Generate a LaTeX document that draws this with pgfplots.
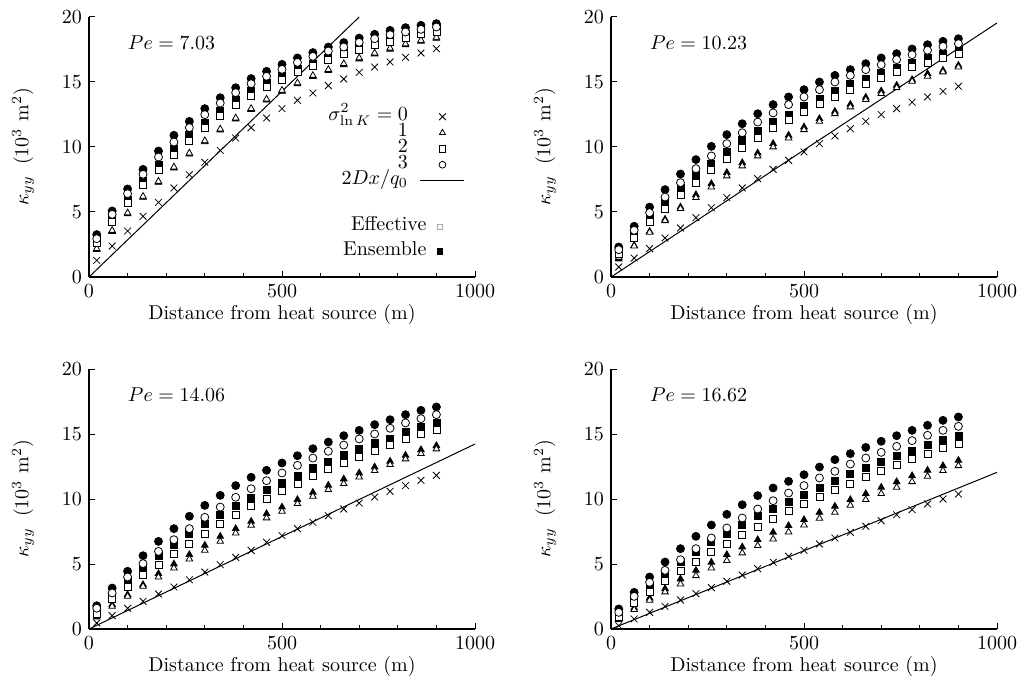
\documentclass[border=0pt]{standalone}
\usepackage{pgfplots}
\pgfplotsset{compat=1.18}
\usepackage{pgfplotstable}

\pgfplotstableread{
x   X     TF    TO    SF    SO    CF    CO
20  1.28  2.10  2.18  2.82  2.60  3.26  2.95
60  2.38  3.50  3.58  4.49  4.23  5.08  4.82
100 3.54  4.85  4.93  5.95  5.72  6.77  6.41
140 4.67  6.12  6.20  7.36  7.05  8.28  7.90
180 5.74  7.28  7.36  8.64  8.26  9.69  9.23
220 6.85  8.38  8.46  9.82  9.41  10.90 10.38
260 7.87  9.45  9.53  10.90 10.46 11.97 11.49
300 8.82  10.40 10.48 11.87 11.46 12.95 12.49
340 9.74  11.30 11.38 12.74 12.36 13.79 13.38
380 10.69 12.15 12.23 13.59 13.20 14.56 14.18
420 11.49 12.88 12.96 14.28 13.92 15.26 14.87
460 12.23 13.60 13.68 14.92 14.62 15.82 15.44
500 12.95 14.28 14.36 15.44 15.13 16.36 15.97
540 13.59 14.85 14.93 16.00 15.77 16.85 16.51
580 14.15 15.42 15.50 16.41 16.23 17.26 16.97
620 14.72 15.88 15.96 16.87 16.67 17.69 17.38
660 15.23 16.33 16.41 17.31 17.13 18.03 17.69
700 15.74 16.77 16.85 17.69 17.44 18.38 18.05
740 16.15 17.15 17.23 18.03 17.82 18.67 18.33
780 16.54 17.52 17.60 18.33 18.10 18.97 18.64
820 16.90 17.85 17.93 18.72 18.41 19.18 18.85
860 17.23 18.13 18.21 18.97 18.72 19.36 19.05
900 17.56 18.35 18.43 19.15 18.85 19.49 19.23
}\PA

\pgfplotstableread{
x   X     TF    TO    SF    SO    CF    CO
20  0.77  1.38  1.50  1.92  1.80  2.31  2.10
60  1.46  2.42  2.38  3.20  3.00  3.90  3.59
100 2.18  3.50  3.44  4.56  4.23  5.38  4.95
140 3.00  4.44  4.33  5.69  5.26  6.72  6.15
180 3.77  5.38  5.26  6.85  6.33  7.92  7.26
220 4.56  6.33  6.10  7.82  7.26  9.03  8.33
260 5.33  7.18  6.92  8.72  8.21  10.05 9.31
300 6.10  8.03  7.77  9.62  9.05  10.95 10.26
340 6.85  8.79  8.54  10.51 9.92  11.79 11.10
380 7.56  9.54  9.31  11.23 10.69 12.56 11.92
420 8.28  10.26 10.00 11.90 11.46 13.26 12.62
460 8.97  10.90 10.69 12.49 12.10 13.85 13.26
500 9.62  11.54 11.33 13.13 12.69 14.41 13.85
540 10.26 12.18 11.97 13.72 13.28 15.00 14.41
580 10.85 12.74 12.56 14.28 13.85 15.51 15.00
620 11.41 13.28 13.08 14.82 14.36 15.95 15.51
660 11.97 13.82 13.64 15.26 14.87 16.41 15.95
700 12.49 14.31 14.10 15.72 15.33 16.85 16.33
740 12.95 14.74 14.56 16.08 15.77 17.18 16.72
780 13.44 15.18 15.05 16.46 16.15 17.54 17.10
820 13.85 15.64 15.44 16.85 16.49 17.87 17.44
860 14.28 15.90 15.77 17.18 16.87 18.13 17.74
900 14.67 16.28 16.15 17.49 17.13 18.33 17.95
}\PB

\pgfplotstableread{
x   X     TF    TO    SF    SO    CF    CO
20  0.46  0.92  1.05  1.30  1.20  1.79  1.60
60  1.03  1.87  1.74  2.56  2.31  3.15  2.77
100 1.59  2.64  2.51  3.67  3.23  4.44  4.00
140 2.13  3.41  3.28  4.69  4.18  5.64  5.03
180 2.69  4.26  4.00  5.59  4.95  6.74  5.97
220 3.23  5.00  4.69  6.49  5.79  7.72  6.87
260 3.79  5.72  5.38  7.33  6.56  8.67  7.72
300 4.38  6.44  6.05  8.10  7.33  9.51  8.59
340 4.95  7.13  6.74  8.79  8.10  10.28 9.38
380 5.51  7.72  7.38  9.44  8.79  11.03 10.13
420 6.05  8.28  7.97  10.08 9.44  11.67 10.79
460 6.67  8.87  8.54  10.67 10.00 12.21 11.41
500 7.18  9.38  9.05  11.23 10.64 12.77 12.00
540 7.72  9.95  9.64  11.74 11.18 13.33 12.59
580 8.21  10.51 10.21 12.38 11.74 13.87 13.15
620 8.72  11.05 10.72 12.85 12.31 14.38 13.67
660 9.23  11.54 11.18 13.36 12.77 14.87 14.15
700 9.69  12.00 11.69 13.85 13.23 15.28 14.62
740 10.15 12.46 12.18 14.31 13.72 15.72 15.00
780 10.59 12.90 12.64 14.64 14.13 16.10 15.44
820 11.03 13.36 13.08 15.13 14.62 16.49 15.85
860 11.44 13.79 13.49 15.54 15.00 16.82 16.18
900 11.82 14.10 13.85 15.85 15.28 17.08 16.49
}\PC

\pgfplotstableread{
x   X     TF    TO    SF    SO    CF    CO
20  0.26  0.72  0.85  1.03  0.90  1.54  1.28
60  0.77  1.62  1.49  2.31  2.00  2.82  2.51
100 1.28  2.38  2.21  3.28  2.85  4.00  3.59
140 1.74  3.10  2.85  4.18  3.67  5.15  4.51
180 2.23  3.85  3.46  5.13  4.49  6.18  5.33
220 2.72  4.51  4.10  5.90  5.15  7.13  6.18
260 3.18  5.13  4.69  6.67  5.90  8.00  7.00
300 3.67  5.72  5.26  7.33  6.56  8.82  7.77
340 4.15  6.31  5.85  8.03  7.26  9.56  8.54
380 4.64  6.87  6.41  8.67  7.85  10.26 9.23
420 5.13  7.44  6.92  9.23  8.46  10.85 9.87
460 5.59  7.95  7.46  9.77  9.05  11.36 10.46
500 6.05  8.41  8.00  10.33 9.62  11.87 11.03
540 6.54  8.97  8.51  10.85 10.15 12.46 11.62
580 7.00  9.44  8.97  11.41 10.67 13.03 12.13
620 7.44  9.95  9.51  11.92 11.18 13.49 12.69
660 7.90  10.41 9.95  12.41 11.69 13.97 13.15
700 8.33  10.90 10.41 12.85 12.15 14.44 13.59
740 8.79  11.33 10.90 13.33 12.62 14.87 14.05
780 9.18  11.79 11.33 13.72 13.08 15.28 14.49
820 9.62  12.21 11.74 14.15 13.49 15.67 14.90
860 10.00 12.56 12.18 14.56 13.90 16.05 15.28
900 10.38 12.97 12.56 14.82 14.23 16.31 15.59
}\PD

\pgfplotsset{
  panel/.style={
    scale only axis, width=193pt, height=130pt,
    xmin=0, xmax=1000, ymin=0, ymax=20,
    axis x line*=bottom, axis y line*=left,
    xtick={0,500,1000}, minor xtick={100,200,...,900},
    xticklabels={0,500,1000},
    ytick={0,5,10,15,20},
    major tick length=3pt, minor tick length=2pt,
    tick style={black, line width=0.5pt},
    axis line style={line width=0.6pt},
    xlabel={Distance from heat source (m)},
    xlabel style={at={(axis description cs:0.5,-0.146)}, anchor=center},
    ylabel={$\kappa_{yy}\;\;(10^3~\mathrm{m}^2)$},
    ylabel style={at={(axis description cs:-0.171,0.5)}, anchor=center},
    anchor=south west,
  },
  xs/.style={only marks, forget plot, mark=x, mark size=2.4pt, black, mark options={line width=0.4pt}},
  trF/.style={only marks, forget plot, mark=triangle*, mark size=1.9pt, black, mark options={line width=0.4pt, fill=black}},
  trO/.style={only marks, forget plot, mark=triangle*, mark size=1.9pt, black, mark options={line width=0.4pt, fill=white}},
  sqF/.style={only marks, forget plot, mark=square*, mark size=1.75pt, black, mark options={line width=0.4pt, fill=black}},
  sqO/.style={only marks, forget plot, mark=square*, mark size=1.75pt, black, mark options={line width=0.4pt, fill=white}},
  ciF/.style={only marks, forget plot, mark=*, mark size=2pt, black, mark options={line width=0.4pt, fill=black}},
  ciO/.style={only marks, forget plot, mark=*, mark size=2pt, black, mark options={line width=0.4pt, fill=white}},
  ln/.style={black, line width=0.5pt, no marks, forget plot},
  limgM/.style={legend image code/.code={\path (0pt,0pt) (22pt,0pt); \draw[##1] plot coordinates {(11pt,0pt)};}},
  limgL/.style={legend image code/.code={\draw[##1] (0pt,0pt) -- (22pt,0pt);}},
  limgS/.style={legend image code/.code={\path (0pt,0pt) (2.8pt,0pt); \draw[##1] plot coordinates {(1.4pt,0pt)};}},
}

\newcommand{\series}[1]{%
  \addplot[xs]  table[x=x,y=X]  {#1};
  \addplot[trF] table[x=x,y=TF] {#1};
  \addplot[trO] table[x=x,y=TO] {#1};
  \addplot[sqF] table[x=x,y=SF] {#1};
  \addplot[sqO] table[x=x,y=SO] {#1};
  \addplot[ciF] table[x=x,y=CF] {#1};
  \addplot[ciO] table[x=x,y=CO] {#1};
}

\begin{document}
\begin{tikzpicture}
\useasboundingbox (-44.5pt,-203.5pt) rectangle (465.5pt,138.5pt);

% Panel 1
\begin{axis}[panel, at={(0pt,0pt)},
  legend cell align=right, legend plot pos=right,
  legend style={draw=none, fill=none, inner sep=0pt, outer sep=0pt,
    at={(axis description cs:0.974,0.646)}, anchor=north east,
    column sep=6pt, row sep=0.3pt,
    nodes={inner sep=0pt, text height=5.6pt, text depth=2.1pt}},
]
\addplot[ln] coordinates {(0,0) (700,20)};
\series{\PA}
\node[anchor=west, inner sep=0pt] at (axis cs:100,18) {$Pe = 7.03$};
\addlegendimage{only marks, mark=x, mark size=2.4pt, black, mark options={line width=0.4pt}, limgM}
\addlegendentry{$\sigma^2_{\ln K}=0$}
\addlegendimage{only marks, mark=triangle, mark size=1.7pt, black, mark options={line width=0.4pt}, limgM}
\addlegendentry{$1$}
\addlegendimage{only marks, mark=square, mark size=1.6pt, black, mark options={line width=0.4pt}, limgM}
\addlegendentry{$2$}
\addlegendimage{only marks, mark=o, mark size=1.7pt, black, mark options={line width=0.4pt}, limgM}
\addlegendentry{$3$}
\addlegendimage{black, line width=0.5pt, limgL}
\addlegendentry{$2Dx/q_0$}
\end{axis}

% second legend (Effective / Ensemble)
\begin{axis}[scale only axis, width=193pt, height=130pt, at={(0pt,0pt)}, anchor=south west,
  xmin=0, xmax=1000, ymin=0, ymax=20, hide axis,
  legend cell align=right, legend plot pos=right,
  legend style={draw=none, fill=none, inner sep=0pt, outer sep=0pt,
    at={(axis description cs:0.917,0.242)}, anchor=north east,
    column sep=5.1pt, row sep=0pt,
    nodes={inner sep=0pt, text height=8pt, text depth=4.5pt}},
]
\addlegendimage{only marks, mark=square, mark size=1.3pt, gray!70, mark options={line width=0.4pt}, limgS}
\addlegendentry{Effective}
\addlegendimage{only marks, mark=square*, mark size=1.4pt, black, limgS}
\addlegendentry{Ensemble}
\end{axis}

% Panel 2
\begin{axis}[panel, at={(261pt,0pt)}]
\addplot[ln] coordinates {(0,0) (1000,19.54)};
\series{\PB}
\node[anchor=west, inner sep=0pt] at (axis cs:100,18) {$Pe = 10.23$};
\end{axis}

% Panel 3
\begin{axis}[panel, at={(0pt,-176pt)}]
\addplot[ln] coordinates {(0,0) (1000,14.23)};
\series{\PC}
\node[anchor=west, inner sep=0pt] at (axis cs:100,18) {$Pe = 14.06$};
\end{axis}

% Panel 4
\begin{axis}[panel, at={(261pt,-176pt)}]
\addplot[ln] coordinates {(0,0) (1000,12.05)};
\series{\PD}
\node[anchor=west, inner sep=0pt] at (axis cs:100,18) {$Pe = 16.62$};
\end{axis}
\end{tikzpicture}
\end{document}
